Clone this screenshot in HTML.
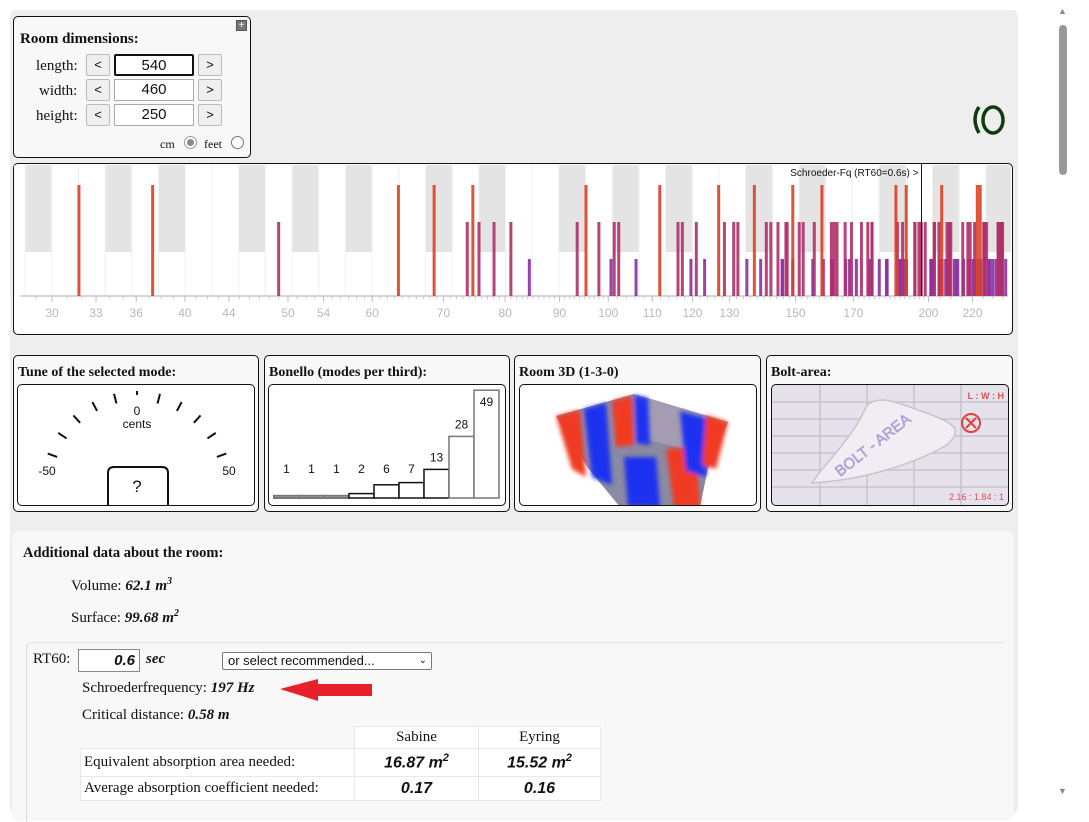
<!DOCTYPE html>
<html><head><meta charset="utf-8">
<style>
*{box-sizing:border-box}
body{margin:0;width:1089px;height:814px;background:#fff;position:relative;overflow:hidden;font-family:"Liberation Serif",serif;font-size:14px;color:#111}
.abs{position:absolute}
.box{position:absolute;border:1px solid #111;border-radius:5px;background:#f8f8f8}
.btn{position:absolute;width:24px;height:22px;border:1px solid #bbb;border-radius:2px;background:#efefef;font-family:"Liberation Sans",sans-serif;font-size:13px;text-align:center;line-height:20px}
.inp{position:absolute;width:80px;height:22px;border:1px solid #aaa;background:#fff;font-family:"Liberation Sans",sans-serif;font-size:15px;text-align:center;line-height:20px}
.ttl{position:absolute;font-weight:bold;font-size:14px}
.inner{position:absolute;border:1px solid #111;border-radius:5px;background:#fff;overflow:hidden}
.lbl{position:absolute;font-size:14px}
</style></head><body>
<div class="abs" style="left:10px;top:10px;width:1008px;height:804px;background:#eeeeee;border-radius:6px"></div>
<div class="abs" style="left:1055px;top:0;width:17px;height:814px;background:#fff">
  <div class="abs" style="left:3px;top:6px;color:#888;font-size:9px">▲</div>
  <div class="abs" style="left:4px;top:25px;width:8px;height:150px;background:#999;border-radius:4px"></div>
  <div class="abs" style="left:3px;top:786px;color:#888;font-size:9px">▼</div>
</div>

<div class="box" style="left:13px;top:16px;width:238px;height:142px">
  <div class="abs" style="left:222px;top:3px;width:11px;height:11px;background:#777;border:1px solid #555;color:#fff;font-size:10px;line-height:9px;text-align:center;font-family:'Liberation Sans',sans-serif">+</div>
  <div class="ttl" style="left:6px;top:14px;font-size:15px">Room dimensions:</div>
  <div class="lbl" style="left:22px;top:41px;font-size:15px">length:</div>
  <div class="lbl" style="left:25px;top:66px;font-size:15px">width:</div>
  <div class="lbl" style="left:22px;top:91px;font-size:15px">height:</div>
  <div class="btn" style="left:72px;top:37px">&lt;</div>
  <div class="inp" style="left:100px;top:37px;border:2px solid #111;border-radius:2px">540</div>
  <div class="btn" style="left:184px;top:37px">&gt;</div>
  <div class="btn" style="left:72px;top:62px">&lt;</div>
  <div class="inp" style="left:100px;top:62px">460</div>
  <div class="btn" style="left:184px;top:62px">&gt;</div>
  <div class="btn" style="left:72px;top:87px">&lt;</div>
  <div class="inp" style="left:100px;top:87px">250</div>
  <div class="btn" style="left:184px;top:87px">&gt;</div>
  <div class="lbl" style="left:146px;top:120px;font-size:12px">cm</div>
  <div class="abs" style="left:170px;top:119px;width:13px;height:13px;border-radius:50%;border:1px solid #999;background:#fff"><div style="margin:2px;width:7px;height:7px;border-radius:50%;background:#888"></div></div>
  <div class="lbl" style="left:190px;top:120px;font-size:12px">feet</div>
  <div class="abs" style="left:217px;top:119px;width:13px;height:13px;border-radius:50%;border:1px solid #777;background:#fff"></div>
</div>
<svg class="abs" style="left:968px;top:102px" width="42" height="36">
  <path d="M11,5 Q3,17 11,31" fill="none" stroke="#0d3d0d" stroke-width="3.5"/>
  <ellipse cx="25" cy="18" rx="10" ry="13" fill="none" stroke="#0d3d0d" stroke-width="3.5"/>
</svg>

<div class="box" style="left:13px;top:163px;width:1000px;height:172px;background:#fff"></div>
<svg id="modes" class="abs" style="left:14px;top:164px" width="997" height="169" viewBox="14 164 997 169"></svg>

<div class="box" style="left:13px;top:355px;width:246px;height:157px">
  <div class="ttl" style="left:4px;top:9px">Tune of the selected mode:</div>
  <div class="inner" style="left:3px;top:28px;width:238px;height:122px"><svg id="gauge" width="238" height="122"></svg></div>
</div>
<div class="box" style="left:264px;top:355px;width:246px;height:157px">
  <div class="ttl" style="left:4px;top:9px">Bonello (modes per third):</div>
  <div class="inner" style="left:3px;top:28px;width:238px;height:122px"><svg id="bonello" width="238" height="122"></svg></div>
</div>
<div class="box" style="left:514px;top:355px;width:247px;height:157px">
  <div class="ttl" style="left:4px;top:9px">Room 3D (1-3-0)</div>
  <div class="inner" style="left:4px;top:28px;width:238px;height:122px">
    <svg width="238" height="122">
      <defs><filter id="bl"><feGaussianBlur stdDeviation="2"/></filter></defs>
      <polygon points="36,31 114,9 208,37 188,83 180,122 100,122 68,83" fill="#8a8aa2"/>
      <polygon points="114,9 208,37 190,70 116,52" fill="#a59bb2"/>
      <g filter="url(#bl)">
      <polygon points="36,31 60,25 66,92 52,84" fill="#f03a20"/>
      <polygon points="64,24 86,18 92,100 72,92" fill="#1a30f0"/>
      <polygon points="92,16 112,11 114,60 96,62" fill="#f03a20"/>
      <polygon points="114,10 128,13 130,60 116,58" fill="#1a30f0"/>
      <polygon points="146,64 176,62 180,122 154,122" fill="#f03a20"/>
      <polygon points="104,72 136,72 140,122 108,122" fill="#1a30f0"/>
      <polygon points="160,26 190,34 186,92 166,86" fill="#1a30f0"/>
      <polygon points="186,30 208,37 196,84 182,80" fill="#f03a20"/>
      </g>
    </svg>
  </div>
</div>
<div class="box" style="left:766px;top:355px;width:247px;height:157px">
  <div class="ttl" style="left:4px;top:9px">Bolt-area:</div>
  <div class="inner" style="left:4px;top:28px;width:238px;height:122px;background:#e6e2ec">
    <svg width="238" height="122">
      <g stroke="#c8c2d0" stroke-width="1.5">
        <line x1="48" y1="0" x2="48" y2="122"/><line x1="95" y1="0" x2="95" y2="122"/><line x1="142" y1="0" x2="142" y2="122"/><line x1="189" y1="0" x2="189" y2="122"/>
        <line x1="0" y1="17" x2="238" y2="17"/><line x1="0" y1="34" x2="238" y2="34"/><line x1="0" y1="51" x2="238" y2="51"/><line x1="0" y1="68" x2="238" y2="68"/><line x1="0" y1="85" x2="238" y2="85"/><line x1="0" y1="102" x2="238" y2="102"/>
      </g>
      <path d="M40,98 C55,75 80,55 95,20 C110,8 130,20 160,30 C185,40 190,45 175,60 C140,80 90,95 40,98 Z" fill="#f0eef2" stroke="#c8c2cc" stroke-width="1.5"/>
      <text x="68" y="92" transform="rotate(-38 68 92)" font-family="Liberation Sans" font-size="15" fill="#c2b8de" stroke="#9a88c8" stroke-width="0.5">BOLT - AREA</text>
      <text x="232" y="14" text-anchor="end" font-family="Liberation Sans" font-size="9" font-weight="bold" fill="#e05050">L : W : H</text>
      <circle cx="199" cy="38" r="9" fill="none" stroke="#e04040" stroke-width="2"/>
      <path d="M194,33 L204,43 M204,33 L194,43" stroke="#e04040" stroke-width="2"/>
      <text x="232" y="115" text-anchor="end" font-family="Liberation Sans" font-size="9" fill="#e05050">2.16 : 1.84 : 1</text>
    </svg>
  </div>
</div>

<div class="abs" style="left:12px;top:531px;width:1002px;height:290px;background:#f8f8f8;border-radius:8px"></div>
<div class="ttl" style="left:23px;top:545px;font-size:14.5px">Additional data about the room:</div>
<div class="lbl" style="left:71px;top:576px;font-size:15px">Volume: <b><i>62.1 m<sup style="font-size:10px">3</sup></i></b></div>
<div class="lbl" style="left:71px;top:608px;font-size:15px">Surface: <b><i>99.68 m<sup style="font-size:10px">2</sup></i></b></div>
<div class="abs" style="left:26px;top:642px;width:978px;height:180px;border-left:1px solid #ddd;border-top:1px solid #e4e4e4;border-radius:6px 0 0 0"></div>
<div class="lbl" style="left:33px;top:651px;font-size:15px">RT60:</div>
<div class="abs" style="left:78px;top:649px;width:62px;height:23px;background:#fff;border:1px solid #888;font-family:'Liberation Sans',sans-serif;font-size:15px;font-weight:bold;font-style:italic;text-align:right;padding-right:4px;line-height:21px">0.6</div>
<div class="lbl" style="left:146px;top:651px;font-size:15px;font-weight:bold;font-style:italic">sec</div>
<div class="abs" style="left:222px;top:652px;width:210px;height:18px;background:#fff;border:1px solid #777;border-radius:2px;font-family:'Liberation Sans',sans-serif;font-size:13px;line-height:16px;padding-left:5px">or select recommended...<span style="position:absolute;right:4px;top:0;font-size:10px">&#x2304;</span></div>
<div class="lbl" style="left:82px;top:680px;font-size:15px">Schroederfrequency: <b><i>197 Hz</i></b></div>
<svg class="abs" style="left:278px;top:677px" width="96" height="26"><polygon points="2,12 40,2 40,7 94,7 94,19 40,19 40,24" fill="#e8202a"/></svg>
<div class="lbl" style="left:82px;top:707px;font-size:15px">Critical distance: <b><i>0.58 m</i></b></div>
<table class="abs" style="left:80px;top:726px;border-collapse:collapse;font-size:15px">
<tr style="height:22px"><td style="width:274px"></td><td style="width:124px;border:1px solid #e8e8e8;text-align:center;background:#fff">Sabine</td><td style="width:122px;border:1px solid #e8e8e8;text-align:center;background:#fff">Eyring</td></tr>
<tr style="height:28px"><td style="border:1px solid #e8e8e8;background:#fff;padding-left:3px">Equivalent absorption area needed:</td><td style="border:1px solid #e8e8e8;text-align:center;font-family:'Liberation Sans',sans-serif;font-weight:bold;font-style:italic;font-size:16px;background:#fff">16.87 m<sup style="font-size:11px">2</sup></td><td style="border:1px solid #e8e8e8;text-align:center;font-family:'Liberation Sans',sans-serif;font-weight:bold;font-style:italic;font-size:16px;background:#fff">15.52 m<sup style="font-size:11px">2</sup></td></tr>
<tr style="height:24px"><td style="border:1px solid #e8e8e8;background:#fff;padding-left:3px">Average absorption coefficient needed:</td><td style="border:1px solid #e8e8e8;text-align:center;font-family:'Liberation Sans',sans-serif;font-weight:bold;font-style:italic;font-size:16px;background:#fff">0.17</td><td style="border:1px solid #e8e8e8;text-align:center;font-family:'Liberation Sans',sans-serif;font-weight:bold;font-style:italic;font-size:16px;background:#fff">0.16</td></tr>
</table>

<script>
const axialModes = [31.8,37.3,63.5,68.6,74.6,95.3,111.8,127.0,137.2,149.1,158.8,186.4,190.6,205.8,222.3,223.7];
const tangentialModes = [49.0,73.7,75.6,78.1,81.0,93.5,98.0,101.3,102.3,116.3,117.4,121.0,128.6,131.2,132.4,140.8,142.2,144.4,146.9,147.3,151.2,152.5,156.2,162.1,163.1,164.1,167.0,169.3,173.0,175.4,177.0,177.0,187.0,189.1,194.2,194.2,195.9,196.9,198.6,202.5,202.6,204.6,208.2,209.2,209.3,209.9,215.4,217.8,218.9,221.0,225.4,225.6,225.9,226.8,232.5,232.7,234.0,234.2,234.5,234.8];
const obliqueModes = [84.3,100.6,106.2,119.6,123.2,135.0,139.1,145.7,145.8,149.1,155.7,159.3,162.2,162.5,167.2,168.6,171.1,176.0,177.0,179.8,182.6,182.9,188.1,188.4,189.8,190.7,201.0,201.2,201.3,205.1,205.9,206.0,207.6,208.5,211.5,212.4,213.1,215.8,217.9,218.6,220.3,221.2,222.7,223.9,227.9,228.4,229.8,231.4,233.6,236.4];
const tickLabels = [30,33,36,40,44,50,54,60,70,80,90,100,110,120,130,150,170,200,220];
const schroederHz = 197;
const modeLevels = {axial:3, tangential:2, oblique:1};

const NS='http://www.w3.org/2000/svg';
const fx = f => 52 + 462*Math.log(f/30);
const levelY = lv => 296 - lv*37;
function mk(p,tag,attrs){const e=document.createElementNS(NS,tag);for(const k in attrs)e.setAttribute(k,attrs[k]);p.appendChild(e);return e;}
const svg=document.getElementById('modes');
const fMin=28.2,fMax=238;
for(let n=-60;n<60;n++){
  const f0=440*Math.pow(2,(n-0.5)/12), f1=440*Math.pow(2,(n+0.5)/12);
  if(f1<fMin||f0>fMax)continue;
  const semis=((n%12)+12)%12;
  const x0=Math.max(14,fx(f0)), x1=Math.min(1011,fx(f1));
  const isBlack=[1,4,6,9,11].includes(semis);
  if(isBlack){const r=mk(svg,'rect',{x:x0,y:165,width:x1-x0,height:87,fill:'#e4e4e4'});
    
    }
  mk(svg,'line',{x1:x0,y1:165,x2:x0,y2:296,stroke:'#f0f0f0','stroke-width':1});
}
mk(svg,'line',{x1:20,y1:296,x2:1008,y2:296,stroke:'#c8c8c8','stroke-width':1.5});
for(let f=29;f<=236;f+=(f<100?1:(f<200?2:5))){const x=fx(f);mk(svg,'line',{x1:x,y1:296,x2:x,y2:299,stroke:'#c8c8c8'});}
tickLabels.forEach(t=>{const x=fx(t);
  mk(svg,'line',{x1:x,y1:296,x2:x,y2:302,stroke:'#c0c0c0'});
  const tx=mk(svg,'text',{x:x,y:317,'text-anchor':'middle','font-family':'Liberation Sans','font-size':12,fill:'#b8b8b8'});tx.textContent=t;
  
  
});
function drawModes(arr,lv,color,name){arr.forEach(f=>{const x=fx(f);const y=levelY(lv);
  const r=mk(svg,'rect',{x:x-1.5,y:y,width:3,height:296-y,fill:color,'fill-opacity':0.9});
  
  });}
drawModes(obliqueModes,modeLevels.oblique,'#8a2fa4','oblique-mode-bar');
drawModes(tangentialModes,modeLevels.tangential,'#b03068','tangential-mode-bar');
drawModes(axialModes,modeLevels.axial,'#dc4024','axial-mode-bar');
const sx=fx(schroederHz);
const sl=mk(svg,'line',{x1:sx,y1:164,x2:sx,y2:296,stroke:'#111','stroke-width':1});


const st=mk(svg,'text',{x:sx-3,y:176,'text-anchor':'end','font-family':'Liberation Sans','font-size':10,fill:'#111'});st.textContent='Schroeder-Fq (RT60=0.6s) >';



const gaugeTicks=[-50,-40,-30,-20,-10,0,10,20,30,40,50];
const g=document.getElementById('gauge');
const cx=119,cy=101,R=93;
gaugeTicks.forEach(v=>{const a=v/50*70*Math.PI/180;
  const r0=v===0?R-2:R-8,r1=R+2;
  mk(g,'line',{x1:cx+r0*Math.sin(a),y1:cy-r0*Math.cos(a),x2:cx+r1*Math.sin(a),y2:cy-r1*Math.cos(a),stroke:'#111','stroke-width':2});});
[['-50',29,90],['50',211,90],['0',119,30],['cents',119,43]].forEach(([t,x,y])=>{const e=mk(g,'text',{x:x,y:y,'text-anchor':'middle','font-family':'Liberation Sans','font-size':12,fill:'#111'});e.textContent=t;});
mk(g,'path',{d:'M90,122 L90,88 Q90,82 96,82 L144,82 Q150,82 150,88 L150,122',fill:'none',stroke:'#111','stroke-width':2});
const q=mk(g,'text',{x:119,y:107,'text-anchor':'middle','font-family':'Liberation Sans','font-size':17,fill:'#111'});q.textContent='?';



const bonelloCounts=[1,1,1,2,6,7,13,28,49];
const bb=document.getElementById('bonello');
const bw=25,bx0=5,base=113,scale=2.2;
bonelloCounts.forEach((c,i)=>{const h=c*scale;const x=bx0+i*bw;
  const r=mk(bb,'rect',{x:x,y:base-h,width:bw,height:h,fill:'#fff',stroke:i>6||c<2?'#777':'#111','stroke-width':c<2?2:1.5});
  
  
  const inside=c===Math.max(...bonelloCounts);
  const ty=inside?base-h+16:Math.min(base-h-8,88);
  const t=mk(bb,'text',{x:x+bw/2,y:ty,'text-anchor':'middle','font-family':'Liberation Sans','font-size':12,fill:'#111'});t.textContent=c;
  
  });
</script>
</body></html>
